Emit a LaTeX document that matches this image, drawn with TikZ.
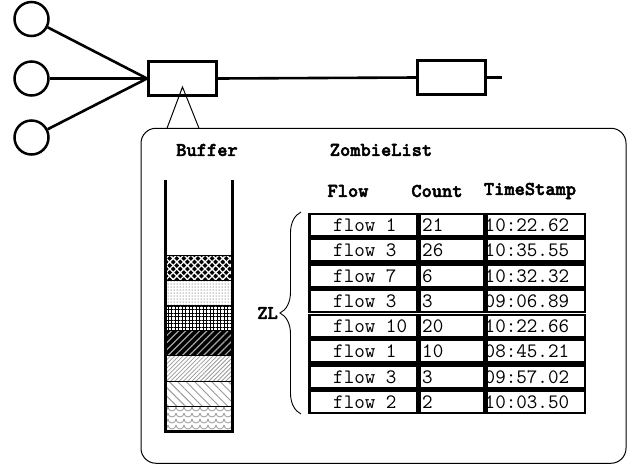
\documentclass[tikz,border=0pt]{standalone}
\usepackage{fontspec}
\newfontfamily\hdfont{lmmonolt10-bold.otf}[FakeBold=2.5]
\usetikzlibrary{patterns,patterns.meta,decorations.pathreplacing}
\pgfdeclarepatternformonly{scallops}{\pgfqpoint{-1pt}{-1pt}}{\pgfqpoint{9pt}{7pt}}{\pgfqpoint{8pt}{6pt}}{%
  \pgfsetlinewidth{0.8pt}%
  \pgfpathmoveto{\pgfqpoint{0pt}{6pt}}%
  \pgfpatharc{180}{360}{4pt}%
  \pgfusepath{stroke}}
\tikzset{
  src/.style={draw, circle, line width=2.5pt, minimum size=34pt, inner sep=0pt},
  qbox/.style={draw, rectangle, line width=3pt, minimum width=68pt, minimum height=34pt, inner sep=0pt},
  link/.style={line width=2.6pt},
  callout/.style={draw, line width=1pt, rounded corners=15pt, inner sep=0pt},
  head/.style={font=\fontsize{19.5}{19.5}\selectfont\hdfont, inner sep=0pt},
  celltxt/.style={font=\fontsize{20.5}{20.5}\selectfont\ttfamily, inner sep=0pt, anchor=west, text height=13pt, text depth=0pt},
  cellbox/.style={draw, line width=2.6pt, inner sep=0pt},
  layer/.style={draw, line width=0.9pt},
}
\begin{document}
\begin{tikzpicture}[x=1pt, y=-1pt]
\useasboundingbox (0,0) rectangle (627,467);
% network
\node[src] (c1) at (31.5,19) {};
\node[src] (c2) at (31.5,78.5) {};
\node[src] (c3) at (31.5,137.5) {};
\node[qbox] (b1) at (182.5,78.5) {};
\node[qbox] (b2) at (451.5,77.5) {};
\coordinate (out) at (502,77.5);
\draw[link] (c1) -- (b1.west);
\draw[link] (c2) -- (b1.west);
\draw[link] (c3) -- (b1.west);
\draw[link] (b1.east) -- (b2.west);
\draw[link] (b2.east) -- (out);
% callout
\node[callout, minimum width=485pt, minimum height=335pt] (co) at (383.5,295.75) {};
\coordinate (apex) at (182.5,87);
\coordinate (tl) at (167,128.25);
\coordinate (tr) at (199,128.25);
\draw[line width=1pt] (tl) -- (apex) -- (tr);
% titles
\node[head] (tbuf) at (207,150) {Buffer};
\node[head] (tzl) at (381,150) {ZombieList};
\node[head] (hflow) at (348,191) {Flow};
\node[head] (hcount) at (437,191) {Count};
\node[head] (hts) at (530,191) {TimeStamp};
% buffer layers
\fill[black] (166,255) rectangle (232,280);
\fill[pattern={Lines[angle=45,distance=5pt,line width=1.3pt]}, pattern color=white] (166,255) rectangle (232,280);
\fill[pattern={Lines[angle=-45,distance=5pt,line width=1.3pt]}, pattern color=white] (166,255) rectangle (232,280);
\draw[layer] (166,255) rectangle (232,280);
\fill[pattern=dots, pattern color=black!80] (166,280) rectangle (232,305);
\draw[layer] (166,280) rectangle (232,305);
\fill[pattern={Hatch[angle=0,distance=3.5pt,line width=0.9pt]}, pattern color=black] (166,305) rectangle (232,330);
\draw[layer] (166,305) rectangle (232,330);
\fill[black] (166,330) rectangle (232,355.5);
\fill[pattern={Lines[angle=45,distance=5pt,line width=1.2pt]}, pattern color=gray!70] (166,330) rectangle (232,355.5);
\draw[layer] (166,330) rectangle (232,355.5);
\fill[pattern={Lines[angle=45,distance=3pt,line width=0.8pt]}, pattern color=gray!80] (166,355.5) rectangle (232,381);
\draw[layer] (166,355.5) rectangle (232,381);
\fill[pattern={Lines[angle=-45,distance=6pt,line width=1pt]}, pattern color=gray!80] (166,381) rectangle (232,406);
\draw[layer] (166,381) rectangle (232,406);
\fill[pattern=scallops, pattern color=gray!80] (166,406) rectangle (232,431.5);
\draw[layer] (166,406) rectangle (232,431.5);
\draw[line width=3pt] (165.7,180) -- (165.7,431.5) -- (232.7,431.5) -- (232.7,180);
% table
\foreach \f/\c/\t [count=\i from 0] in {flow 1/21/10:22.62, flow 3/26/10:35.55, flow 7/6/10:32.32, flow 3/3/09:06.89, flow 10/20/10:22.66, flow 1/10/08:45.21, flow 3/3/09:57.02, flow 2/2/10:03.50}{
  \pgfmathsetmacro{\ya}{212.5+25.25*\i}
  \pgfmathsetmacro{\yc}{\ya+12.625}
  \node[cellbox, minimum width=107.6pt, minimum height=22.6pt] (r\i a) at (363,\yc) {};
  \node[cellbox, minimum width=64.6pt, minimum height=22.6pt] (r\i b) at (451.5,\yc) {};
  \node[cellbox, minimum width=98.6pt, minimum height=22.6pt] (r\i c) at (535.5,\yc) {};
  \node[celltxt] (t\i a) at (333,\yc) {\f};
  \node[celltxt] (t\i b) at (422,\yc) {\c};
  \node[celltxt] (t\i c) at (484.5,\yc) {\t};
}
% brace
\coordinate (bb) at (301,414);
\coordinate (bt) at (301,212);
\draw[line width=0.9pt, decorate, decoration={brace, amplitude=21pt}] (bb) -- (bt);
\node[head, anchor=east] (zl) at (278,313) {ZL};
\end{tikzpicture}
\end{document}
